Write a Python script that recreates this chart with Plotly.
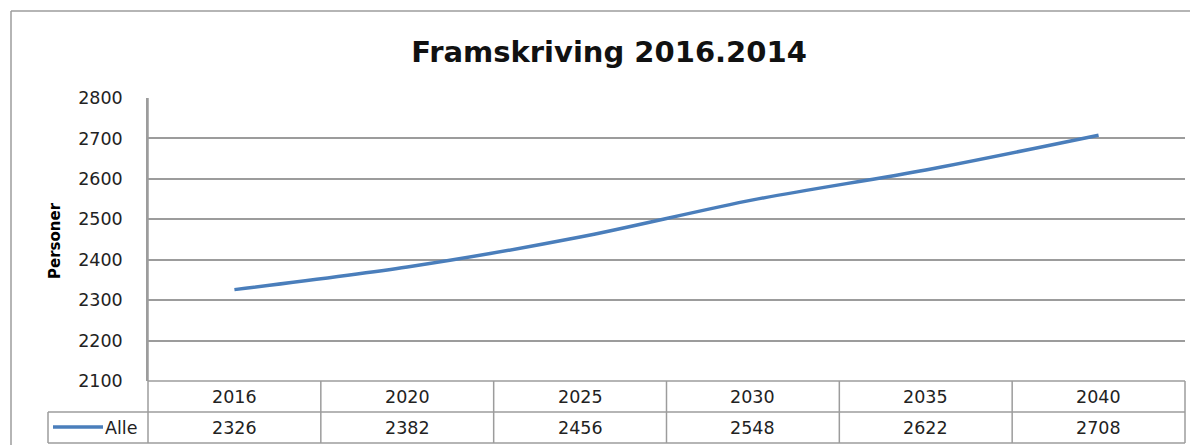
import plotly.graph_objects as go

years = ["2016", "2020", "2025", "2030", "2035", "2040"]
alle = [2326, 2382, 2456, 2548, 2622, 2708]
series_name = "Alle"
title_text = "Framskriving 2016.2014"
y_title = "Personer"
y_ticks = [2100, 2200, 2300, 2400, 2500, 2600, 2700, 2800]

# page is 1198x445, the body keeps an 8px margin round the figure
OFF = 8
W, H = 1198 - OFF, 445 - OFF
L, R, T, B = 148 - OFF, 13, 98 - OFF, 64
plot_h = H - T - B
plot_w = W - L - R
grey = "#9c9c9c"
blue = "#4a7ebb"
font = "DejaVu Sans, sans-serif"


def py(page_y):
    # page pixel row -> paper y
    return (H - B - (page_y - OFF)) / plot_h


def px(page_x):
    return (page_x - OFF - L) / plot_w


xs = list(range(len(years)))

fig = go.Figure()
fig.add_trace(go.Scatter(
    x=xs, y=alle, mode="lines", name=series_name,
    line=dict(color=blue, width=3.5, shape="spline", smoothing=0.8),
    showlegend=False, hoverinfo="x+y"
))

row1, row2 = py(412), py(443)
lw = dict(color=grey, width=1.5)
shapes = []
# outer chart frame (only top and left edges are inside the picture)
shapes.append(dict(type="line", xref="paper", yref="paper",
                   x0=px(11), x1=px(1198), y0=py(11), y1=py(11), line=lw))
shapes.append(dict(type="line", xref="paper", yref="paper",
                   x0=px(11), x1=px(11), y0=py(11), y1=py(445), line=lw))
# table: horizontal lines
shapes.append(dict(type="line", xref="paper", yref="paper", x0=0, x1=1, y0=0, y1=0, line=lw))
shapes.append(dict(type="line", xref="paper", yref="paper", x0=px(48), x1=1,
                   y0=row1, y1=row1, line=lw))
shapes.append(dict(type="line", xref="paper", yref="paper", x0=px(48), x1=1,
                   y0=row2, y1=row2, line=lw))
# table: vertical lines
shapes.append(dict(type="line", xref="paper", yref="paper", x0=px(48), x1=px(48),
                   y0=row2, y1=row1, line=lw))
shapes.append(dict(type="line", xref="paper", yref="paper", x0=0, x1=0,
                   y0=row2, y1=1, line=lw))
shapes.append(dict(type="line", xref="paper", yref="paper", x0=1, x1=1,
                   y0=row2, y1=0, line=lw))
for i in range(len(years) - 1):
    shapes.append(dict(type="line", xref="x", yref="paper", x0=i + 0.5, x1=i + 0.5,
                       y0=row2, y1=0, line=lw))
# legend key
shapes.append(dict(type="line", xref="paper", yref="paper", x0=px(53), x1=px(103),
                   y0=py(427), y1=py(427), line=dict(color=blue, width=3.5)))

tf = dict(family=font, size=17.5, color="#222")
annotations = []
for i, (yr, v) in enumerate(zip(years, alle)):
    annotations.append(dict(x=i, xref="x", y=(0 + row1) / 2, yref="paper",
                            text=yr, showarrow=False, font=tf,
                            xanchor="center", yanchor="middle"))
    annotations.append(dict(x=i, xref="x", y=(row1 + row2) / 2, yref="paper",
                            text=str(v), showarrow=False, font=tf,
                            xanchor="center", yanchor="middle"))
annotations.append(dict(x=px(103), xref="paper", y=(row1 + row2) / 2, yref="paper",
                        text=series_name, showarrow=False, font=tf,
                        xanchor="left", yanchor="middle"))
annotations.append(dict(x=px(55), xref="paper", y=py(241), yref="paper",
                        text="<b>" + y_title + "</b>", showarrow=False, textangle=-90,
                        xanchor="center", yanchor="middle",
                        font=dict(family=font, size=15, color="#000")))

fig.update_layout(
    width=W, height=H,
    margin=dict(l=L, r=R, t=T, b=B),
    paper_bgcolor="white", plot_bgcolor="white",
    title=dict(text="<b>" + title_text + "</b>", x=px(609), xref="paper", xanchor="center",
               y=1 - (52 - OFF) / H, yanchor="middle",
               font=dict(family=font, size=29, color="#111")),
    xaxis=dict(range=[-0.5, len(years) - 0.5], showticklabels=False, showgrid=False,
               zeroline=False, ticks="", showline=False),
    yaxis=dict(range=[2100, 2800], tickvals=y_ticks, showgrid=True, gridcolor=grey,
               gridwidth=1.5, zeroline=False, showline=True, linecolor=grey, linewidth=1.5,
               ticks="", ticklabelstandoff=20, tickfont=tf),
    shapes=shapes,
    annotations=annotations,
)

fig.write_html("out.html")
